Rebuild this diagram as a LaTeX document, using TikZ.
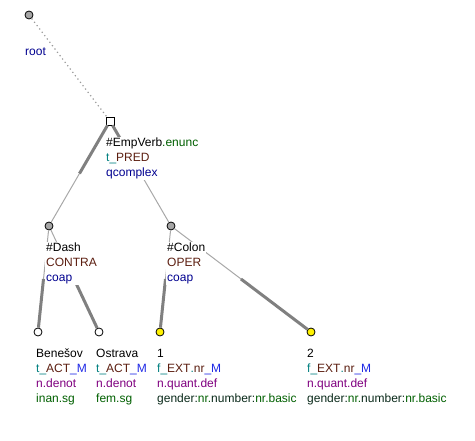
\documentclass[tikz,border=0pt]{standalone}
\usepackage{fontspec}
\setmainfont{Liberation Sans}
\usetikzlibrary{calc}

\definecolor{tfa}{HTML}{008080}
\definecolor{functor}{HTML}{5C1E10}
\definecolor{memb}{HTML}{1E28E6}
\definecolor{ntype}{HTML}{000090}
\definecolor{sempos}{HTML}{800080}
\definecolor{gram}{HTML}{006000}
\definecolor{gramkey}{HTML}{0A2A1A}
\definecolor{edgethin}{HTML}{A8A8A8}
\definecolor{edgethick}{HTML}{808080}

\tikzset{
  tnode/.style = {circle, draw = black, line width = 0.8pt, fill = gray!70, inner sep = 0pt, minimum size = 8pt},
  leaf/.style = {tnode, fill = white},
  num/.style = {tnode, fill = yellow},
  topnode/.style = {rectangle, draw = black, line width = 0.8pt, fill = white, inner sep = 0pt, minimum size = 8pt},
  lbl/.style = {anchor = north west, fill = white, inner sep = 1pt, align = left,
    font = \fontsize{12}{15}\selectfont},
  thinedge/.style = {draw = edgethin, line width = 1pt},
  thickedge/.style = {draw = edgethick, line width = 3pt}
}

\begin{document}
\begin{tikzpicture}[x = 1pt, y = -1pt]
	\useasboundingbox (0, 0) rectangle (475, 441);
	%\draw[help lines, step = 50] (0,0) grid (475,441);
	
	% nodes of the tree
	\node[tnode] (root) at (29, 15) {};
	\node[topnode] (emp) at (110, 121) {};
	\node[tnode] (dash) at (49, 226) {};
	\node[tnode] (colon) at (171, 226) {};
	\node[leaf] (benesov) at (38, 332) {};
	\node[leaf] (ostrava) at (99, 332) {};
	\node[num] (one) at (160, 332) {};
	\node[num] (two) at (311, 332) {};
	
	% edges
	\draw[draw = gray!80, line width = 1.2pt, dash pattern = on 1.2pt off 3pt] (root) -- (emp);
	
	\draw[thinedge] (emp) -- (dash);
	\draw[thickedge] (emp) -- ($(emp)!0.5!(dash)$);
	\draw[thinedge] (emp) -- (colon);
	\draw[thickedge] (emp) -- ($(emp)!0.5!(colon)$);
	
	\draw[thinedge] (dash) -- (benesov);
	\draw[thickedge] ($(dash)!0.5!(benesov)$) -- (benesov);
	\draw[thinedge] (dash) -- (ostrava);
	\draw[thickedge] ($(dash)!0.5!(ostrava)$) -- (ostrava);
	\draw[thinedge] (colon) -- (one);
	\draw[thickedge] ($(colon)!0.5!(one)$) -- (one);
	\draw[thinedge] (colon) -- (two);
	\draw[thickedge] ($(colon)!0.5!(two)$) -- (two);
	
	% labels
	\node[lbl] (rootlbl) at (24, 47) {\textcolor{ntype}{root}};
	\node[lbl] (emplbl) at (105, 137) {\#EmpVerb\textcolor{gram}{.enunc}\\
		\textcolor{tfa}{t\_}\textcolor{functor}{PRED}\\
		\textcolor{ntype}{qcomplex}};
	\node[lbl] (dashlbl) at (45, 242) {\#Dash\\
		\textcolor{functor}{CONTRA}\\
		\textcolor{ntype}{coap}};
	\node[lbl] (colonlbl) at (166, 242) {\#Colon\\
		\textcolor{functor}{OPER}\\
		\textcolor{ntype}{coap}};
	\node[lbl] (benesovlbl) at (35, 348) {Benešov\\
		\textcolor{tfa}{t\_}\textcolor{functor}{ACT}\textcolor{memb}{\_M}\\
		\textcolor{sempos}{n.denot}\\
		\textcolor{gram}{inan.sg}};
	\node[lbl] (ostravalbl) at (95, 348) {Ostrava\\
		\textcolor{tfa}{t\_}\textcolor{functor}{ACT}\textcolor{memb}{\_M}\\
		\textcolor{sempos}{n.denot}\\
		\textcolor{gram}{fem.sg}};
	\node[lbl] (onelbl) at (156, 348) {1\\
		\textcolor{tfa}{f\_}\textcolor{functor}{EXT}\textcolor{tfa}{.}\textcolor{functor}{nr}\textcolor{memb}{\_M}\\
		\textcolor{sempos}{n.quant.def}\\
		\textcolor{gramkey}{gender:}\textcolor{gram}{nr.}\textcolor{gramkey}{number:}\textcolor{gram}{nr.basic}};
	\node[lbl] (twolbl) at (306, 348) {2\\
		\textcolor{tfa}{f\_}\textcolor{functor}{EXT}\textcolor{tfa}{.}\textcolor{functor}{nr}\textcolor{memb}{\_M}\\
		\textcolor{sempos}{n.quant.def}\\
		\textcolor{gramkey}{gender:}\textcolor{gram}{nr.}\textcolor{gramkey}{number:}\textcolor{gram}{nr.basic}};
	
\end{tikzpicture}
\end{document}
